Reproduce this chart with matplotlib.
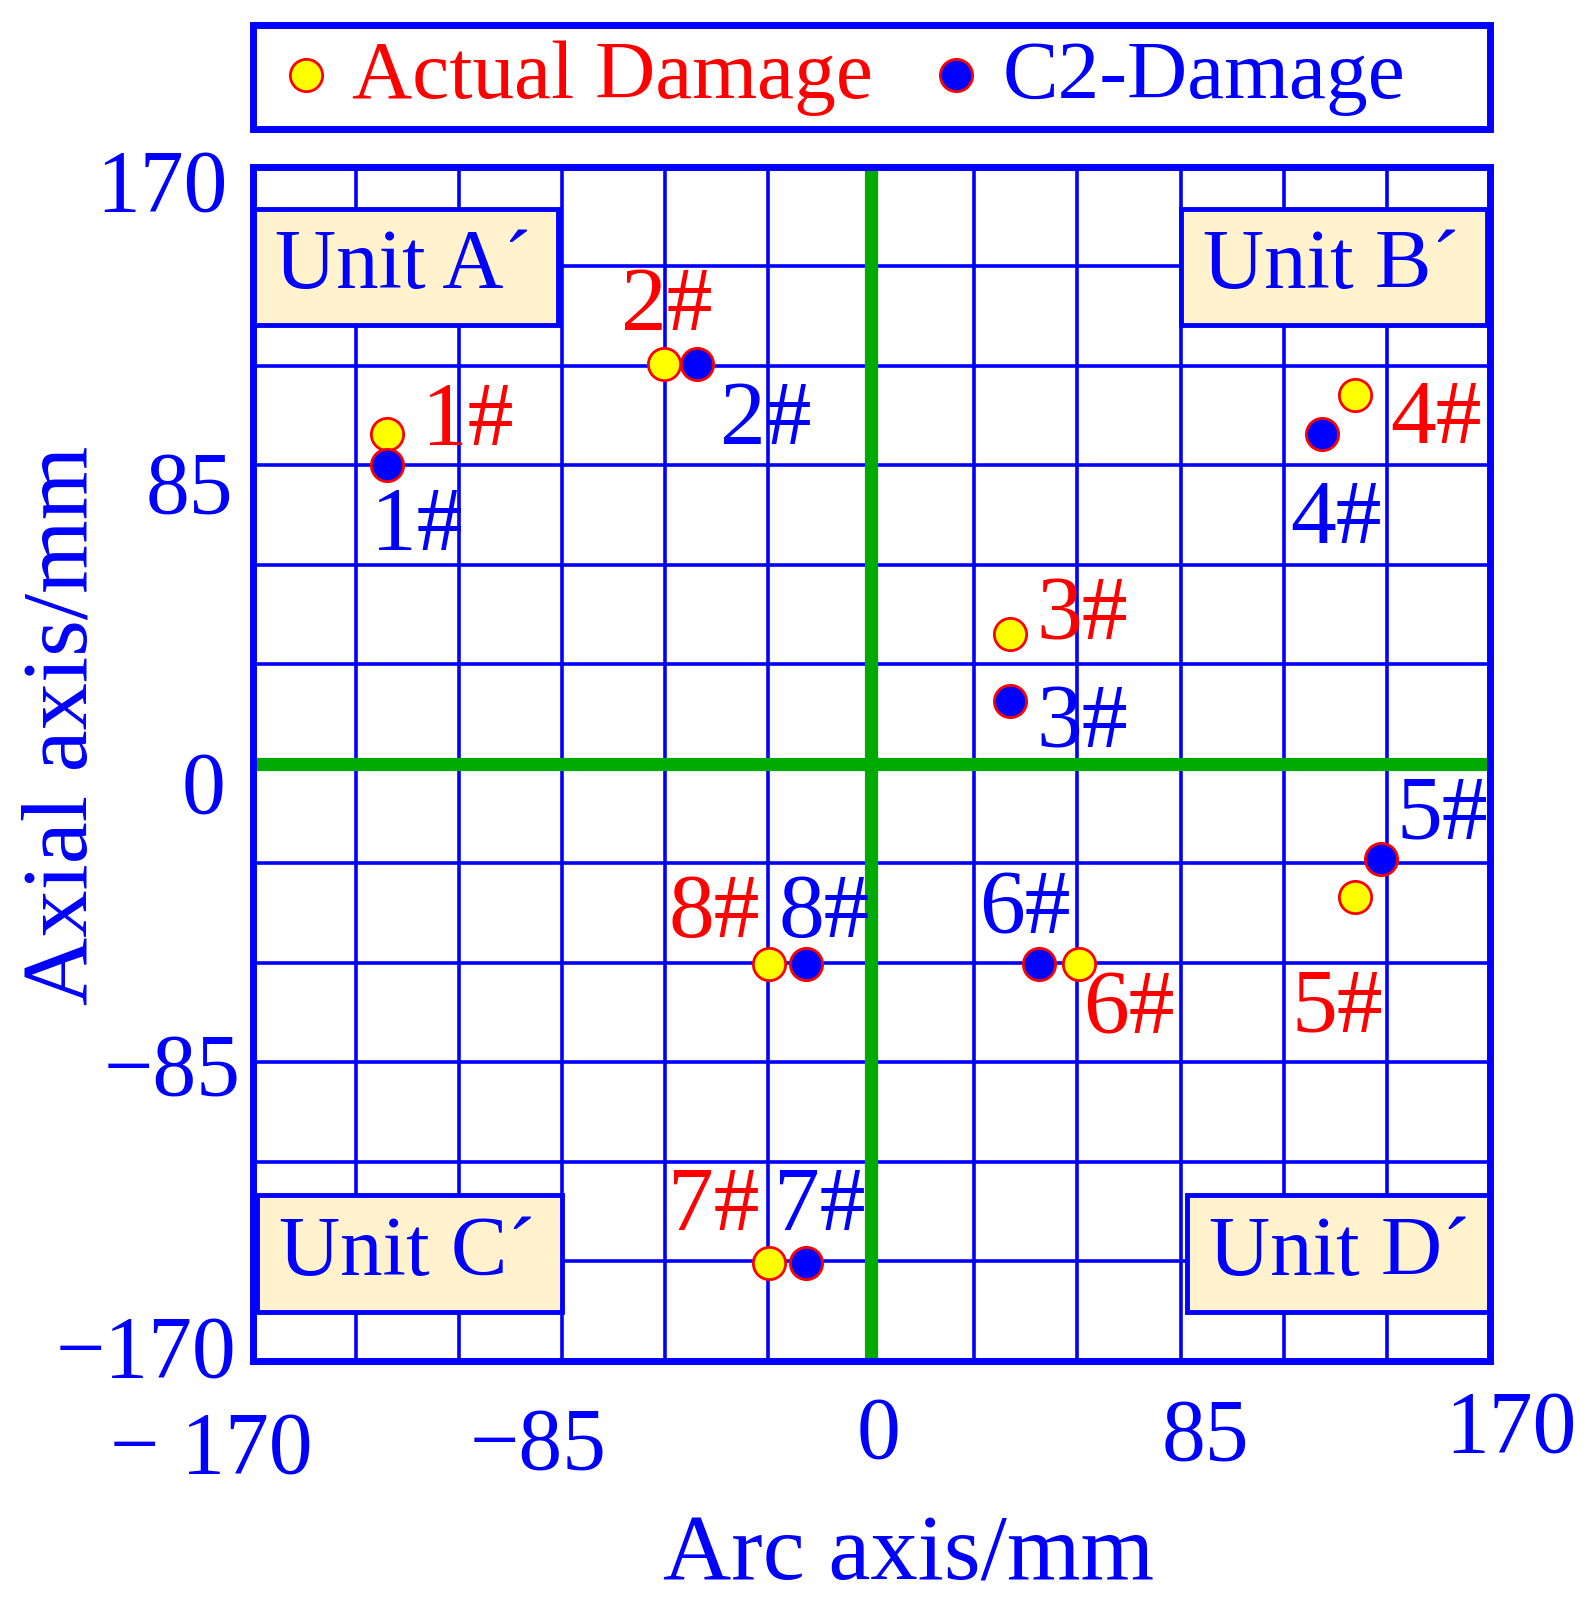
import matplotlib.pyplot as plt
from matplotlib.patches import Rectangle
from matplotlib.transforms import ScaledTranslation

# damage locations (arc, axial) in mm
labels = ["1#", "2#", "3#", "4#", "5#", "6#", "7#", "8#"]
actual_x = [-133, -57, 38, 133, 133, 57, -28, -28]
actual_y = [94, 114, 37, 105, -38, -57, -142, -57]
c2_x = [-133, -48, 38, 124, 140, 46, -18, -18]
c2_y = [85, 114, 18, 94, -27, -57, -142, -57]

ticks = [-170, -85, 0, 85, 170]
xtick_labels = ["\u2212 170", "\u221285", "0", "85", "170"]
ytick_labels = ["\u2212170", "\u221285", "0", "85", "170"]
units = ["Unit A\u00b4", "Unit B\u00b4", "Unit C\u00b4", "Unit D\u00b4"]

# label offsets in points (layout only)
red_off = [(58, 9), (2, 41), (52, 13), (58, -18), (-13, -80), (36, -33), (-40, 40), (-40, 36)]
blue_off = [(21, -44), (50, -41), (52, -17), (10, -62), (44, 31), (-10, 39), (10, 40), (13, 36)]
# hand-placed tick label nudges in points
xtick_nudge = [(-30, -5), (-17, -2), (5, 6), (18, 4), (15, 10)]
ytick_nudge = [(6, 12), (9, 0), (-2, -12), (4, -11), (0, -8)]
# unit boxes in axes fraction: x0, y0, w, h
unit_boxes = [(0.0, 0.868, 0.247, 0.097), (0.750, 0.868, 0.248, 0.097),
              (0.003, 0.041, 0.247, 0.098), (0.755, 0.041, 0.245, 0.098)]

BLUE = "#0000ff"
RED = "#ff0000"
GREEN = "#00aa00"
plt.rcParams['font.family'] = ['Liberation Serif', 'DejaVu Serif']

fig = plt.figure(figsize=(15.9, 16.15), dpi=100)
ax = fig.add_axes([0.159, 0.1567, 0.778, 0.7393])
ax.set_xlim(-170, 170)
ax.set_ylim(-170, 170)

# blue grid, 12 x 12 cells
step = 340 / 12
for i in range(1, 12):
    v = -170 + i * step
    ax.axvline(v, color=BLUE, lw=2.6, zorder=1)
    ax.axhline(v, color=BLUE, lw=2.6, zorder=1)

ax.axvline(0, color=GREEN, lw=9.5, zorder=2)
ax.axhline(0, color=GREEN, lw=9.5, zorder=2)

for (x0, y0, w, h), name in zip(unit_boxes, units):
    ax.add_patch(Rectangle((x0, y0), w, h, transform=ax.transAxes,
                           facecolor="#fff2cc", edgecolor=BLUE, lw=3.5, zorder=3))
    ax.text(x0 + 0.018, y0 + h / 2, name, transform=ax.transAxes, color=BLUE,
            fontsize=61, va="center", ha="left", zorder=4)

ax.scatter(actual_x, actual_y, s=540, c="#ffff00", edgecolors=RED, linewidths=2,
           zorder=5, label="Actual Damage")
ax.scatter(c2_x, c2_y, s=540, c=BLUE, edgecolors=RED, linewidths=2,
           zorder=5, label="C2-Damage")

for i, lab in enumerate(labels):
    ax.annotate(lab, (actual_x[i], actual_y[i]), xytext=red_off[i], textcoords="offset points",
                color=RED, fontsize=66, ha="center", va="center", zorder=6)
    ax.annotate(lab, (c2_x[i], c2_y[i]), xytext=blue_off[i], textcoords="offset points",
                color=BLUE, fontsize=66, ha="center", va="center", zorder=6)

ax.set_xticks(ticks)
ax.set_xticklabels(xtick_labels)
ax.set_yticks(ticks)
ax.set_yticklabels(ytick_labels)
ax.tick_params(axis="both", length=0, labelsize=63, labelcolor=BLUE)
ax.tick_params(axis="x", pad=30)
ax.tick_params(axis="y", pad=18)
for lab, (dx, dy) in zip(ax.get_xticklabels(), xtick_nudge):
    lab.set_transform(lab.get_transform() + ScaledTranslation(dx / 72, dy / 72, fig.dpi_scale_trans))
for lab, (dx, dy) in zip(ax.get_yticklabels(), ytick_nudge):
    lab.set_transform(lab.get_transform() + ScaledTranslation(dx / 72, dy / 72, fig.dpi_scale_trans))

for sp in ax.spines.values():
    sp.set_color(BLUE)
    sp.set_linewidth(5)
    sp.set_zorder(7)

ax.set_xlabel("Arc axis/mm", fontsize=68, color=BLUE, va="center")
ax.set_ylabel("Axial axis/mm", fontsize=68, color=BLUE, va="center")
ax.xaxis.set_label_coords(0.53, -0.163)
ax.yaxis.set_label_coords(-0.153, 0.533)

# legend above the axes with its own full-width frame
ax.add_patch(Rectangle((0, 1.032), 1, 0.087, transform=ax.transAxes, fill=False,
                       edgecolor=BLUE, lw=5, clip_on=False))
leg = ax.legend(loc="center", bbox_to_anchor=(0.479, 1.0755), ncol=2, fontsize=60,
                frameon=False, borderaxespad=0, borderpad=0, handlelength=0.5,
                handletextpad=0.3, columnspacing=0.75, markerscale=1.0)
for txt, col in zip(leg.get_texts(), [RED, BLUE]):
    txt.set_color(col)

fig.savefig("out.png", dpi=100)
